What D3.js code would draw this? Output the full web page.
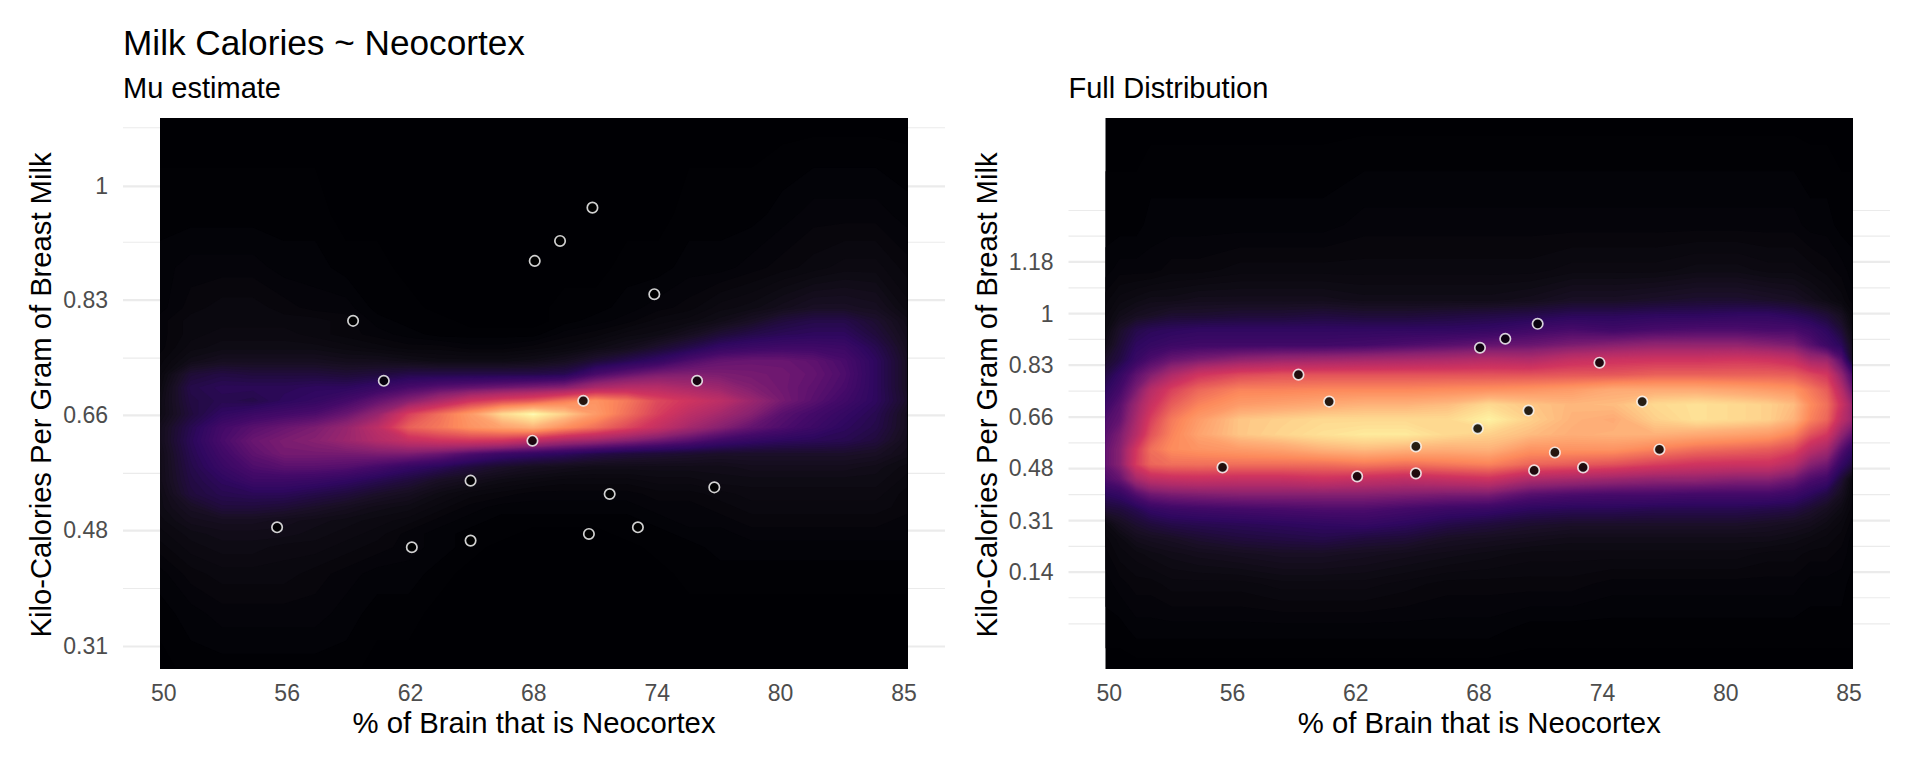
<!DOCTYPE html>
<html>
<head>
    <meta charset="utf-8">
    <script src="https://d3js.org/d3.v7.min.js" charset="utf-8"></script>
    <style>
        body { margin: 0; background: #fff; }
        text { font-family: "Liberation Sans", Arial, sans-serif; }
    </style>
</head>
<body>
<script>
    // observed milk points
    const neocortex = [55.16, 58.82, 60.3, 61.65, 64.48, 64.48, 67.46, 67.57, 68.79, 69.91, 70.18, 70.35, 71.18, 72.54, 73.33, 75.39, 76.22];
    const kcal = [0.49, 0.80, 0.71, 0.46, 0.56, 0.47, 0.62, 0.89, 0.92, 0.68, 0.48, 0.97, 0.54, 0.49, 0.84, 0.71, 0.55];

    const xTickVals = [49.68, 55.62, 61.56, 67.5, 73.45, 79.39, 85.33];
    const xTickLabels = ["50", "56", "62", "68", "74", "80", "85"];

    const muTickVals = [0.311, 0.485, 0.658, 0.831, 1.002];
    const muTickLabels = ["0.31", "0.48", "0.66", "0.83", "1"];
    const muMinorVals = [0.398, 0.571, 0.744, 0.918, 1.09];

    const fullTickVals = [0.14, 0.312, 0.486, 0.658, 0.832, 1.004, 1.177];
    const fullTickLabels = ["0.14", "0.31", "0.48", "0.66", "0.83", "1", "1.18"];
    const fullMinorVals = [-0.033, 0.054, 0.226, 0.399, 0.572, 0.745, 0.918, 1.09, 1.263, 1.349];

    // palette as it looks in the picture
    const paletteStops = [0, 6, 11, 16, 20, 26, 32, 38, 46, 55, 63, 73, 83, 91, 97, 100];
    const paletteColors = ["#000004", "#0d0a12", "#1a0f26", "#240b46", "#2f0860", "#450a69", "#661570", "#8a2270", "#b02c6a", "#d0345f", "#e65a5a", "#fd8a5c", "#feb078", "#fed78f", "#fef0a0", "#fcfdbf"];

    // density, 0 = black, 100 = palest yellow
    const muCols = [49.5, 51, 52.5, 54, 55.5, 57, 58.5, 60, 61.5, 63, 64.5, 66, 67.5, 69, 70.5, 72, 73.5, 75, 76.5, 78, 79.5, 81, 82.5, 84, 85.5];
    const muRows = [1.1, 0.96, 0.88, 0.82, 0.80, 0.78, 0.76, 0.74, 0.72, 0.70, 0.68, 0.66, 0.64, 0.62, 0.60, 0.58, 0.56, 0.54, 0.52, 0.50, 0.48, 0.46, 0.42, 0.36, 0.28];
    const muDensity = [
        [0,0,0,0,0,0,0,0,0,0,0,0,0, 0,0,0,0,0,0,0,0,0,0,0,0],
        [1,1,1,1,1,1,0,0,0,0,0,0,0, 0,0,0,0,1,1,1,2,3,3,3,2],
        [2,3,3,3,2,2,1,1,0,0,0,0,0, 0,0,1,1,2,2,3,4,5,6,6,4],
        [2,4,5,5,4,3,3,1,1,0,0,0,0, 1,1,2,3,4,6,7,9,11,11,10,6],
        [3,5,5,5,5,5,4,2,1,1,0,0,0, 1,2,3,5,6,8,11,15,17,17,13,8],
        [3,5,6,6,6,5,4,3,2,1,1,1,1, 3,4,6,7,10,14,17,19,20,20,15,9],
        [3,6,7,7,7,7,6,5,4,4,3,3,4, 5,7,9,13,17,22,24,25,25,24,18,10],
        [4,8,10,10,10,10,9,9,8,7,7,7,8, 10,14,18,22,28,32,33,33,31,27,20,11],
        [5,14,16,15,15,15,14,15,17,17,17,17,17, 18,27,32,36,37,36,35,34,32,28,20,11],
        [6,17,19,19,19,20,20,23,27,30,32,34,36, 38,45,48,48,45,42,37,34,31,27,20,11],
        [7,16,18,17,20,22,26,32,38,46,55,60,63, 70,76,70,60,55,50,42,35,30,25,20,12],
        [7,15,21,24,26,28,33,41,58,68,78,92,100, 90,78,68,58,50,44,38,30,26,22,18,10],
        [9,18,26,30,33,36,41,50,65,70,76,80,84, 75,68,60,52,44,38,32,28,24,20,17,10],
        [9,19,27,33,36,38,42,47,52,55,56,55,50, 45,42,38,34,30,25,22,20,19,18,15,9],
        [8,18,25,31,35,35,35,36,36,33,28,24,22, 20,17,15,14,13,12,12,12,12,12,11,8],
        [8,17,23,28,30,30,29,26,22,19,15,12,10, 9,8,8,8,8,8,9,9,9,9,8,6],
        [8,16,20,24,24,23,21,18,15,11,9,7,6, 5,5,5,6,6,7,7,7,7,7,7,5],
        [7,15,18,19,19,17,15,12,10,7,5,4,3, 3,3,3,4,4,5,6,6,6,6,6,4],
        [7,11,15,15,14,12,10,8,7,5,3,2,2, 2,2,2,3,3,4,5,5,5,5,5,4],
        [6,9,10,10,9,8,7,6,5,3,2,1,1, 1,1,1,2,3,3,4,4,4,4,4,3],
        [5,7,8,8,8,7,6,5,3,2,1,1,0, 0,0,1,1,2,2,3,3,3,3,3,3],
        [4,6,7,7,6,6,5,4,3,2,1,0,0, 0,0,0,1,1,2,2,2,2,2,2,2],
        [2,4,5,5,5,4,3,2,2,1,0,0,0, 0,0,0,0,1,1,1,1,1,1,1,1],
        [1,2,3,3,3,3,2,1,1,0,0,0,0, 0,0,0,0,0,0,0,0,0,0,0,0],
        [0,1,1,1,1,1,1,0,0,0,0,0,0, 0,0,0,0,0,0,0,0,0,0,0,0]
    ];

    const fullCols = [49.5, 50.2, 51, 51.7, 52.7, 54, 56, 58, 60, 62, 64, 66, 68, 70, 72, 74, 76, 78, 80, 81.5, 82.7, 83.5, 84.3, 85, 85.5];
    const fullRows = [1.66, 1.3, 1.15, 1.05, 1.0, 0.95, 0.90, 0.85, 0.80, 0.75, 0.70, 0.65, 0.60, 0.55, 0.50, 0.45, 0.40, 0.35, 0.30, 0.25, 0.20, 0.10, -0.05, -0.18];
    const fullDensity = [
        [0,0,0,0,0,0,0,0,0,0,0,0,0, 0,0,0,0,0,0,0,0,0,0,0,0],
        [1,1,1,2,2,2,2,2,2,3,3,3,3, 3,3,3,3,3,3,3,3,2,2,1,1],
        [2,3,3,3,4,4,5,5,5,5,5,5,5, 5,6,6,6,7,7,6,6,5,4,3,2],
        [4,6,7,8,8,9,9,9,9,8,8,8,8, 9,11,11,12,13,13,12,11,9,7,5,3],
        [5,8,10,11,13,13,14,14,15,14,14,15,16, 17,19,19,20,20,21,21,19,17,14,10,5],
        [6,12,17,19,20,21,21,21,21,21,21,21,22, 25,27,25,27,28,28,27,27,24,20,14,7],
        [8,14,20,22,24,25,25,25,25,26,28,30,32, 33,36,38,40,40,40,38,36,30,24,19,10],
        [12,16,23,28,33,36,40,42,43,44,45,46,48, 47,52,54,55,55,56,55,52,44,42,30,12],
        [16,22,31,37,46,55,60,62,62,62,62,62,62, 62,63,63,65,65,65,65,64,60,56,40,28],
        [20,26,36,48,58,66,72,72,73,73,73,74,75, 76,78,82,82,82,80,78,76,70,64,48,34],
        [24,30,42,53,64,72,78,80,82,84,84,86,92, 88,85,86,92,94,92,90,86,74,68,54,42],
        [28,32,45,58,70,78,88,90,92,92,92,92,98, 90,84,82,90,94,92,90,84,72,66,50,42],
        [30,36,48,62,72,80,88,91,94,96,96,92,90, 86,83,84,84,82,80,78,72,62,56,40,32],
        [32,38,56,68,74,76,78,80,84,86,84,83,84, 76,76,76,72,68,66,64,60,50,44,30,22],
        [32,38,57,66,68,68,68,68,68,70,68,70,72, 66,64,62,58,55,54,54,48,38,34,22,16],
        [28,32,44,50,52,53,52,52,54,52,50,52,54, 46,44,42,40,40,38,38,34,28,25,14,6],
        [20,22,29,34,36,37,38,38,38,38,37,36,36, 30,28,27,27,26,26,26,24,20,16,10,5],
        [14,15,18,22,24,25,26,27,28,28,26,24,23, 20,19,19,18,18,18,17,16,13,10,7,4],
        [6,10,13,15,17,18,19,20,21,22,20,17,15, 13,12,12,12,12,12,11,10,9,7,5,3],
        [4,6,9,10,11,13,15,16,17,15,14,11,10, 9,8,8,8,8,8,8,7,6,5,4,2],
        [3,5,6,7,8,9,10,11,11,10,9,8,7, 6,6,6,6,6,6,5,5,4,4,3,2],
        [2,3,4,4,5,5,5,6,6,6,5,4,4, 4,4,3,3,3,3,3,3,2,2,2,1],
        [1,1,2,2,2,2,2,2,2,2,2,2,2, 1,1,1,1,1,1,1,1,1,1,1,1],
        [0,0,0,0,0,0,0,0,0,0,0,0,0, 0,0,0,0,0,0,0,0,0,0,0,0]
    ];

    const width = 1920, height = 768;
    const plotTop = 118, plotBottom = 669;
    const color = d3.scaleLinear().domain(paletteStops).range(paletteColors);
    const levels = d3.range(0.5, 101, 1);

    const svg = d3.select("body").append("svg")
        .attr("width", width).attr("height", height)
        .style("display", "block");

    svg.append("text").attr("x", 123).attr("y", 55)
        .style("font-size", "35.2px").text("Milk Calories ~ Neocortex");

    const drawPanel = (p) => {
        const x = d3.scaleLinear().domain([49.52, 85.55]).range([p.left, p.right]);
        const y = d3.scaleLinear().domain(p.yDomain).range([plotBottom, plotTop]);
        const g = svg.append("g");

        // horizontal grid sticks out both sides of the raster
        g.selectAll("line.minor").data(p.minor).enter().append("line")
            .attr("class", "minor")
            .attr("x1", p.left - 37).attr("x2", p.right + 37)
            .attr("y1", d => y(d)).attr("y2", d => y(d))
            .attr("stroke", "#ebebeb").attr("stroke-width", 1.1);
        g.selectAll("line.major").data(p.ticks).enter().append("line")
            .attr("class", "major")
            .attr("x1", p.left - 37).attr("x2", p.right + 37)
            .attr("y1", d => y(d)).attr("y2", d => y(d))
            .attr("stroke", "#ebebeb").attr("stroke-width", 2.2);

        g.append("rect")
            .attr("x", p.left).attr("y", plotTop)
            .attr("width", p.right - p.left).attr("height", plotBottom - plotTop)
            .attr("fill", color(0));

        // contours run in grid index space, map them back through the scales
        const nx = p.cols.length, ny = p.rows.length;
        const colPx = d3.scaleLinear().domain(p.cols.map((d, i) => i + 0.5)).range(p.cols.map(d => x(d))).clamp(true);
        const rowPx = d3.scaleLinear().domain(p.rows.map((d, i) => i + 0.5)).range(p.rows.map(d => y(d))).clamp(true);
        const path = d3.geoPath(d3.geoTransform({
            point(a, b) { this.stream.point(colPx(a), rowPx(b)); }
        }));
        const clipId = "clip-" + p.name;
        g.append("clipPath").attr("id", clipId).append("rect")
            .attr("x", p.left).attr("y", plotTop)
            .attr("width", p.right - p.left).attr("height", plotBottom - plotTop);
        g.append("g").attr("clip-path", `url(#${clipId})`)
            .selectAll("path")
            .data(d3.contours().size([nx, ny]).thresholds(levels)(p.density.flat()))
            .enter().append("path")
            .attr("d", path)
            .attr("fill", d => color(d.value));

        g.selectAll("circle").data(neocortex).enter().append("circle")
            .attr("cx", d => x(d))
            .attr("cy", (d, i) => y(kcal[i]))
            .attr("r", 5.2)
            .attr("fill", "#000")
            .attr("fill-opacity", 0.85)
            .attr("stroke", "#fff")
            .attr("stroke-opacity", 0.82)
            .attr("stroke-width", 1.7);

        const xAxis = g.append("g")
            .attr("transform", `translate(0,${plotBottom})`)
            .call(d3.axisBottom(x).tickValues(xTickVals).tickFormat((d, i) => xTickLabels[i]).tickSize(0).tickPadding(16));
        xAxis.select(".domain").remove();
        xAxis.selectAll("text").attr("fill", "#4d4d4d").style("font-size", "23px");

        const yAxis = g.append("g")
            .attr("transform", `translate(${p.left - 52},0)`)
            .call(d3.axisLeft(y).tickValues(p.ticks).tickFormat((d, i) => p.tickLabels[i]).tickSize(0).tickPadding(0));
        yAxis.select(".domain").remove();
        yAxis.selectAll("text").attr("fill", "#4d4d4d").style("font-size", "23px");

        g.append("text").attr("x", p.left - 37).attr("y", 98)
            .style("font-size", "29px").text(p.subtitle);
        g.append("text").attr("x", (p.left + p.right) / 2).attr("y", 733)
            .attr("text-anchor", "middle")
            .style("font-size", "29.3px").text("% of Brain that is Neocortex");
        g.append("text")
            .attr("transform", `translate(${p.left - 109},395) rotate(-90)`)
            .attr("text-anchor", "middle")
            .style("font-size", "29.2px").text("Kilo-Calories Per Gram of Breast Milk");
    };

    drawPanel({
        name: "mu", subtitle: "Mu estimate", left: 160, right: 908,
        yDomain: [0.2772, 1.1046],
        ticks: muTickVals, tickLabels: muTickLabels, minor: muMinorVals,
        cols: muCols, rows: muRows, density: muDensity
    });
    drawPanel({
        name: "full", subtitle: "Full Distribution", left: 1105.5, right: 1853,
        yDomain: [-0.184, 1.658],
        ticks: fullTickVals, tickLabels: fullTickLabels, minor: fullMinorVals,
        cols: fullCols, rows: fullRows, density: fullDensity
    });
</script>
</body>
</html>
